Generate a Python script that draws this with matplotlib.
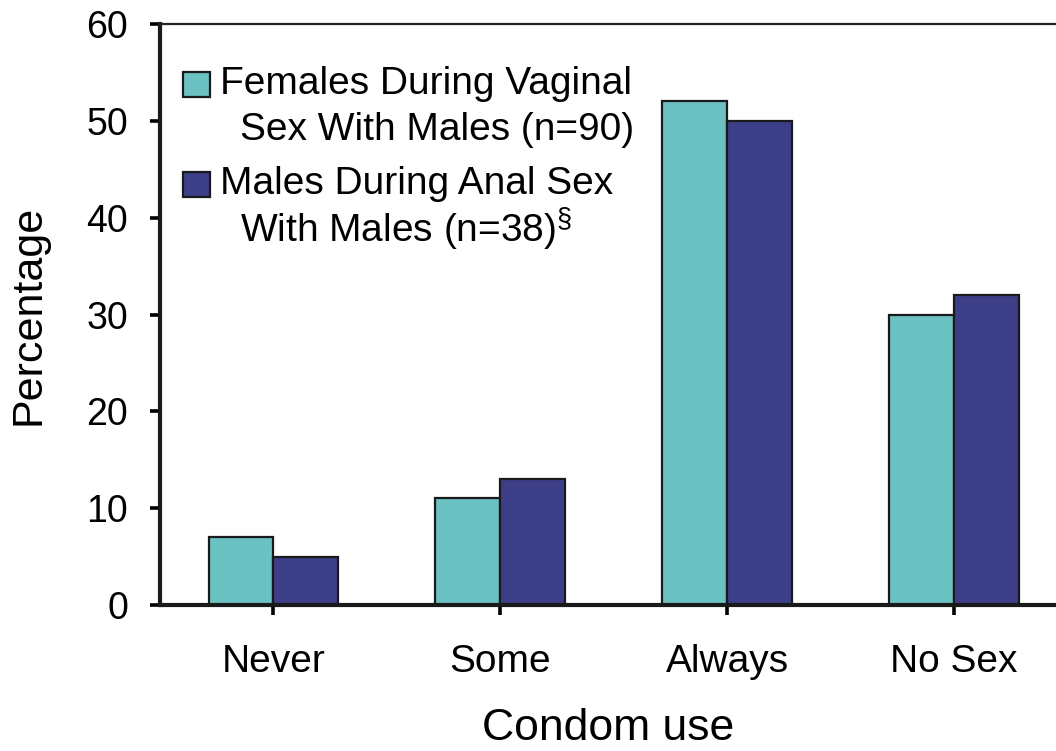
import numpy as np
import matplotlib
matplotlib.use("Agg")
import matplotlib.pyplot as plt
from matplotlib.patches import Rectangle

plt.rcParams['font.family'] = ['Liberation Sans', 'DejaVu Sans']
plt.rcParams['mathtext.fontset'] = 'custom'
plt.rcParams['mathtext.rm'] = 'Liberation Sans'

categories = ['Never', 'Some', 'Always', 'No Sex']
females = [7, 11, 52, 30]
males = [5, 13, 50, 32]
legend_lines = [("Females During Vaginal", "Sex With Males (n=90)"),
                ("Males During Anal Sex", r"With Males (n=38)$^{\S}$")]
yticks = [0, 10, 20, 30, 40, 50, 60]

teal = '#6cc1c2'
navy = '#3c3f88'

fig = plt.figure(figsize=(10.56, 7.51), dpi=100)
ax = fig.add_axes([0.1515, 0.1944, 0.8485, 0.7736])

x = np.arange(len(categories))
w = 0.286
ax.bar(x - w/2, females, w, color=teal, edgecolor='#1a1a1a', linewidth=1.6)
ax.bar(x + w/2, males, w, color=navy, edgecolor='#1a1a1a', linewidth=1.6)

ax.set_xlim(-0.5, 3.45)
ax.set_ylim(0, 60)
ax.set_yticks(yticks)
ax.set_xticks(x)
ax.set_xticklabels(categories, fontsize=28)
ax.tick_params(axis='y', labelsize=27, length=7, width=2.6, pad=16, direction='out')
ax.tick_params(axis='x', length=7, width=2.6, pad=21, direction='out')

for s in ['left', 'bottom']:
    ax.spines[s].set_linewidth(3)
    ax.spines[s].set_color('#1a1a1a')
ax.spines['top'].set_linewidth(1.6)
ax.spines['top'].set_color('#222222')
ax.spines['right'].set_visible(False)

ax.set_ylabel('Percentage', fontsize=31, labelpad=27)
ax.set_xlabel('Condom use', fontsize=32, labelpad=20)

# legend drawn by hand so the patch sits beside the first line
colors = [teal, navy]
line1_y = [0.8967, 0.7246]
for (l1, l2), c, y in zip(legend_lines, colors, line1_y):
    ax.add_patch(Rectangle((0.0257, y - 0.0215), 0.0301, 0.043, transform=ax.transAxes,
                           facecolor=c, edgecolor='#1a1a1a', linewidth=1.6, clip_on=False))
    ax.text(0.067, y, l1, transform=ax.transAxes, fontsize=28, va='center', ha='left')
    ax.text(0.089, y - 0.079, l2, transform=ax.transAxes, fontsize=28, va='center', ha='left')

fig.savefig('out.png', dpi=100)
